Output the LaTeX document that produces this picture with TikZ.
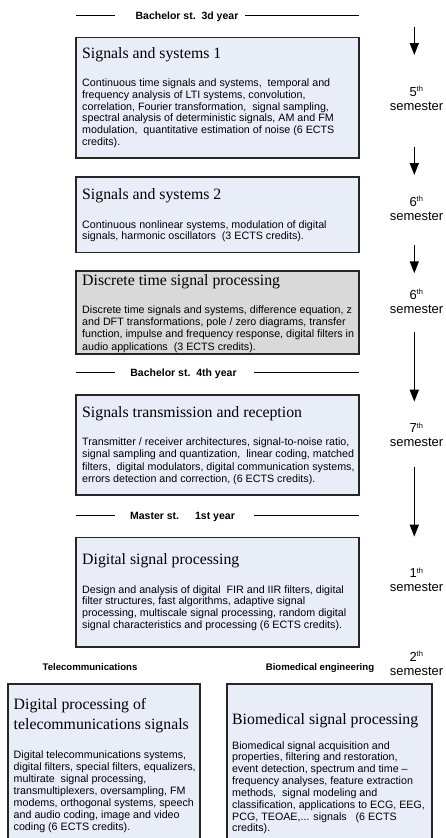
\documentclass[tikz,border=0pt]{standalone}
\usepackage{fontspec}
\setmainfont{Liberation Serif}
\setsansfont{Liberation Sans}
\usetikzlibrary{arrows.meta}
\definecolor{boxblue}{HTML}{E8EDF7}
\definecolor{boxgray}{HTML}{D9D9D9}
\newcommand\tl[1]{\begin{tabular}[t]{@{}l@{}}#1\end{tabular}}
\newcommand\tc[1]{\begin{tabular}[t]{@{}c@{}}#1\end{tabular}}
\newcommand\sem[1]{\tc{#1\textsuperscript{\fontsize{7.5}{8}\selectfont th}\\semester}}
\tikzset{
  box/.style={draw=black!85, line width=1.6pt, fill=boxblue, outer sep=0pt, inner sep=0pt, anchor=north west},
  graybox/.style={box, fill=boxgray},
  title/.style={anchor=base west, inner sep=0pt, font=\fontsize{15.8}{20}\selectfont},
  body/.style={anchor=base west, inner sep=0pt, font=\sffamily\fontsize{10.7}{#1}\selectfont},
  body/.default={11.8},
  header/.style={inner sep=0pt, anchor=base, font=\sffamily\bfseries\fontsize{10.5}{12}\selectfont},
  track/.style={inner sep=0pt, anchor=base, font=\sffamily\bfseries\fontsize{9.6}{12}\selectfont},
  semlabel/.style={inner sep=0pt, anchor=base, font=\sffamily\fontsize{13}{14}\selectfont},
  rule/.style={line width=1.2pt, black},
  flow/.style={line width=1.4pt, black, -{Triangle[length=12pt,width=9pt]}}
}
\begin{document}
\begin{tikzpicture}[x=1pt,y=-1pt]
\useasboundingbox (0,0) rectangle (445,838);
\clip (0,0) rectangle (445,838);

% headers
\node[header] (h1) at (187,19) {Bachelor st.\ \ 3d year};
\coordinate (h1a) at (76,15.3); \coordinate (h1b) at (115,15.3);
\coordinate (h1c) at (245,15.3); \coordinate (h1d) at (359,15.3);
\draw[rule] (h1a) -- (h1b); \draw[rule] (h1c) -- (h1d);

\node[header] (h2) at (183.5,376.5) {Bachelor st.\ \ 4th year};
\coordinate (h2a) at (76,372.7); \coordinate (h2b) at (115,372.7);
\coordinate (h2c) at (254,372.7); \coordinate (h2d) at (359,372.7);
\draw[rule] (h2a) -- (h2b); \draw[rule] (h2c) -- (h2d);

\node[header] (h3) at (182.5,519.5) {Master st.\hspace{16pt}1st year};
\coordinate (h3a) at (76,515.7); \coordinate (h3b) at (115,515.7);
\coordinate (h3c) at (254,515.7); \coordinate (h3d) at (359,515.7);
\draw[rule] (h3a) -- (h3b); \draw[rule] (h3c) -- (h3d);

% box 1
\node[box, minimum width=283pt, minimum height=120.7pt] (b1) at (76,37.3) {};
\node[title] (t1) at (82,58) {Signals and systems 1};
\node[body] (d1) at (82,86.5) {\tl{Continuous time signals and systems,\ \ temporal and\\
frequency analysis of LTI systems, convolution,\\
correlation, Fourier transformation,\ \ signal sampling,\\
spectral analysis of deterministic signals, AM and FM\\
modulation,\ \ quantitative estimation of noise (6 ECTS\\
credits).}};

% box 2
\node[box, minimum width=283pt, minimum height=75.6pt] (b2) at (76,176.7) {};
\node[title] (t2) at (82,199) {Signals and systems 2};
\node[body] (d2) at (82,228) {\tl{Continuous nonlinear systems, modulation of digital\\
signals, harmonic oscillators\ \ (3 ECTS credits).}};

% box 3
\node[graybox, minimum width=283pt, minimum height=83pt] (b3) at (76,271) {};
\node[title] (t3) at (82,285) {Discrete time signal processing};
\node[body=12.45] (d3) at (82,313) {\tl{Discrete time signals and systems, difference equation, z\\
and DFT transformations, pole / zero diagrams, transfer\\
function, impulse and frequency response, digital filters in\\
audio applications\ \ (3 ECTS credits).}};

% box 4
\node[box, minimum width=283pt, minimum height=100pt] (b4) at (76,395) {};
\node[title] (t4) at (82,417.5) {Signals transmission and reception};
\node[body=12.45] (d4) at (82,445.5) {\tl{Transmitter / receiver architectures, signal-to-noise ratio,\\
signal sampling and quantization,\ \ linear coding, matched\\
filters,\ \ digital modulators, digital communication systems,\\
errors detection and correction, (6 ECTS credits).}};

% box 5
\node[box, minimum width=283pt, minimum height=109.7pt] (b5) at (76,537.3) {};
\node[title] (t5) at (82,564.5) {Digital signal processing};
\node[body] (d5) at (82,593) {\tl{Design and analysis of digital\ \ FIR and IIR filters, digital\\
filter structures, fast algorithms, adaptive signal\\
processing, multiscale signal processing, random digital\\
signal characteristics and processing (6 ECTS credits).}};

% tracks
\node[track] (tr1) at (90,670) {Telecommunications};
\node[track] (tr2) at (320,670) {Biomedical engineering};

% box 6
\node[box, minimum width=192pt, minimum height=170pt] (b6) at (8,684) {};
\node[title] (t6) at (13.5,709.5) {\tl{Digital processing of\\telecommunications signals}};
\node[body=12] (d6) at (13.5,758) {\tl{Digital telecommunications systems,\\
digital filters, special filters, equalizers,\\
multirate\ \ signal processing,\\
transmultiplexers, oversampling, FM\\
modems, orthogonal systems, speech\\
and audio coding, image and video\\
coding (6 ECTS credits).}};

% box 7
\node[box, minimum width=205pt, minimum height=170pt] (b7) at (227,684) {};
\node[title] (t7) at (232,724) {Biomedical signal processing};
\node[body=11.85] (d7) at (232,749) {\tl{Biomedical signal acquisition and\\
properties, filtering and restoration,\\
event detection, spectrum and time --\\
frequency analyses, feature extraction\\
methods,\ \ signal modeling and\\
classification, applications to ECG, EEG,\\
PCG, TEOAE,... signals\ \ \ (6 ECTS\\
credits).}};

% semesters
\node[semlabel] (s1) at (416.5,96) {\sem{5}};
\node[semlabel] (s2) at (416.5,206) {\sem{6}};
\node[semlabel] (s3) at (416.5,299.3) {\sem{6}};
\node[semlabel] (s4) at (416.5,432.6) {\sem{7}};
\node[semlabel] (s5) at (416.5,577.6) {\sem{1}};
\node[semlabel] (s6) at (416.5,661) {\sem{2}};

% arrows
\coordinate (a1s) at (414.3,26.7); \coordinate (a1e) at (414.3,55);
\coordinate (a2s) at (414.3,146.7); \coordinate (a2e) at (414.3,175);
\coordinate (a3s) at (414.3,245); \coordinate (a3e) at (414.3,273.3);
\coordinate (a4s) at (414.3,331.7); \coordinate (a4e) at (414.3,401.7);
\coordinate (a5s) at (414.3,466.7); \coordinate (a5e) at (414.3,536.7);
\draw[flow] (a1s) -- (a1e);
\draw[flow] (a2s) -- (a2e);
\draw[flow] (a3s) -- (a3e);
\draw[flow] (a4s) -- (a4e);
\draw[flow] (a5s) -- (a5e);
\end{tikzpicture}
\end{document}
